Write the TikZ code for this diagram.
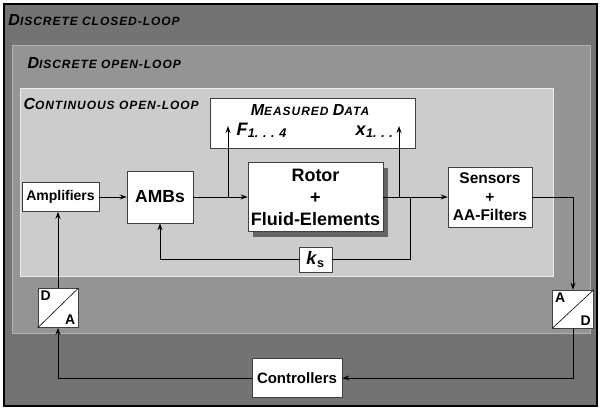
\documentclass[tikz,border=0pt]{standalone}
\usepackage{fontspec}
\setmainfont{Liberation Sans}
\newfontfamily\loopfont[LetterSpace=8]{Liberation Sans}
\usetikzlibrary{arrows.meta,positioning,calc,shadows}
\newcommand{\initcap}[1]{{\fontsize{16}{16}\selectfont #1}}
\newcommand{\fsz}[1]{\fontsize{#1}{#1}\selectfont}

\begin{document}
\begin{tikzpicture}[>={Stealth[length=7pt,width=5pt]}, x=1pt, y=-1pt, line width=1pt]
\tikzstyle{blk}=[draw=black!75,fill=white,line width=0.6pt,inner sep=0pt,font=\bfseries,align=center]
\tikzstyle{looplbl}=[anchor=west,inner sep=0pt,font=\loopfont\bfseries\itshape\fsz{12}]
\tikzstyle{conv}=[blk,minimum width=40pt,minimum height=39pt]
\tikzstyle{convlbl}=[inner sep=2.5pt,font=\bfseries\fsz{14}]
\useasboundingbox (0,0) rectangle (601,410);
% loop areas
\draw[fill=black!55,line width=2pt] (4,4) rectangle (597,406);
\draw[fill=black!42,draw=black!30] (12,45) rectangle (590,333);
\draw[fill=black!20,draw=black!8] (20,88) rectangle (553,276);
\node[looplbl] (dcl) at (8,20) {\initcap{D}ISCRETE CLOSED-LOOP};
\node[looplbl] (dol) at (27,63) {\initcap{D}ISCRETE OPEN-LOOP};
\node[looplbl] (col) at (23,104) {\initcap{C}ONTINUOUS OPEN-LOOP};
% measured data
\node[blk,minimum width=205pt,minimum height=50pt] (meas) at (312.5,123) {};
\node[looplbl,anchor=center] (mtitle) at (310,110) {\initcap{M}EASURED \initcap{D}ATA};
\node[anchor=base west,inner sep=0pt,font=\bfseries\fsz{18}] (flab) at (236,135) {\textit{F}\textsubscript{\textit{1. . . 4}}};
\node[anchor=base east,inner sep=0pt,font=\bfseries\fsz{18}] (xlab) at (394,135) {\textit{x}\textsubscript{\textit{1. . .}}};
% plant blocks
\node[blk,minimum width=77pt,minimum height=29pt,font=\bfseries\fsz{14}] (amp) at (60.5,197) {Amplifiers};
\node[blk,minimum width=66pt,minimum height=52pt,font=\bfseries\fsz{17.5}] (amb) at (160,197) {AMBs};
\node[blk,minimum width=135pt,minimum height=69pt,font=\bfseries\fontsize{18}{22}\selectfont,
  drop shadow={shadow xshift=5pt,shadow yshift=-5pt,fill=black!65,opacity=0.9}] (rotor) at (315.5,197) {Rotor\\+\\Fluid-Elements};
\node[blk,minimum width=84pt,minimum height=60pt,font=\bfseries\fontsize{15.5}{18.5}\selectfont] (sens) at (490,197) {Sensors\\+\\AA-Filters};
\node[blk,minimum width=33pt,minimum height=25pt,font=\bfseries\fsz{18}] (ks) at (315.5,259.5) {\textit{k}\textsubscript{s}};
% converters and controllers
\node[conv] (da) at (58,308) {};
\draw[line width=0.6pt] (da.south west) -- (da.north east);
\node[convlbl,anchor=north west] (dad) at (da.north west) {D};
\node[convlbl,anchor=south east] (daa) at (da.south east) {A};
\node[conv,minimum width=41pt,minimum height=38pt] (ad) at (573,309) {};
\draw[line width=0.6pt] (ad.south west) -- (ad.north east);
\node[convlbl,anchor=north west] (ada) at (ad.north west) {A};
\node[convlbl,anchor=south east] (add) at (ad.south east) {D};
\node[blk,minimum width=90pt,minimum height=39pt,font=\bfseries\fsz{15}] (ctrl) at (297,378) {Controllers};
% signal lines
\coordinate (fb) at (228,197);
\coordinate (ftip) at (228,126);
\coordinate (xb) at (399,197);
\coordinate (xtip) at (399,126);
\coordinate (kb) at (410,197);
\draw[->] (amp) -- (amb);
\draw[->] (amb) -- (rotor);
\draw[->] (fb) -- (ftip);
\draw[->] (rotor) -- (sens);
\draw[->] (xb) -- (xtip);
\draw (kb) |- (ks.east);
\draw[->] (ks.west) -| (amb.south);
\draw[->] (sens.east) -| (ad.north);
\draw[->] (ad.south) |- (ctrl.east);
\draw[->] (ctrl.west) -| (da.south);
\draw[->] (da.north) -- (da.north |- amp.south);
\end{tikzpicture}
\end{document}
